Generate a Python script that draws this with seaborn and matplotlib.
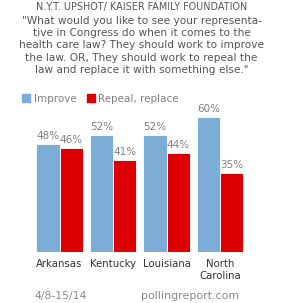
import matplotlib
matplotlib.use("Agg")
import matplotlib.pyplot as plt
import seaborn as sns
import pandas as pd
from matplotlib.patches import Patch

states = ["Arkansas", "Kentucky", "Louisiana", "North\nCarolina"]
improve = [48, 52, 52, 60]
repeal = [46, 41, 44, 35]
series = ["Improve", "Repeal, replace"]

df = pd.DataFrame({
    "state": states * 2,
    "answer": [series[0]] * 4 + [series[1]] * 4,
    "pct": improve + repeal,
})

sns.set_theme(style="white")
plt.rcParams["font.family"] = ["DejaVu Sans"]

W, H = 283, 303
fig = plt.figure(figsize=(W / 100, H / 100), dpi=100)
ax = fig.add_axes([32.75 / W, 51 / H, 214 / W, 142 / H])

palette = {"Improve": "#7BADD7", "Repeal, replace": "#DD0000"}
sns.barplot(data=df, x="state", y="pct", hue="answer", palette=palette,
            width=0.87, saturation=1, legend=False, ax=ax,
            edgecolor="white", linewidth=0.6)

for cont in ax.containers:
    ax.bar_label(cont, labels=[f"{v:.0f}%" for v in cont.datavalues],
                 padding=2, fontsize=7.5, color="#808080")

ax.set_ylim(0, 142 / 2.255)
ax.set_xlim(-0.5, 3.5)
ax.set_xlabel("")
ax.set_ylabel("")
ax.set_yticks([])
ax.tick_params(axis="x", length=0, pad=5, labelsize=7.3, labelcolor="#333333")
sns.despine(ax=ax, left=True, bottom=True)

# legend
handles = [Patch(color=palette[s]) for s in series]
fig.legend(handles, series, loc="center left", bbox_to_anchor=(18 / W, 1 - 99 / H),
           ncol=2, frameon=False, fontsize=7.5, labelcolor="#808080",
           handlelength=0.8, handleheight=0.8, handletextpad=0.3, columnspacing=1.0,
           borderaxespad=0)

# title
fig.text(0.5, 1 - 7 / H, "N.Y.T. UPSHOT/ KAISER FAMILY FOUNDATION",
         ha="center", va="center", fontsize=6.9, color="#555555")
quote = ('"What would you like to see your representa-\n'
         'tive in Congress do when it comes to the\n'
         'health care law? They should work to improve\n'
         'the law. OR, They should work to repeal the\n'
         'law and replace it with something else."')
fig.text(0.5, 1 - 15.5 / H, quote, ha="center", va="top", fontsize=7.6,
         color="#555555", linespacing=1.3)

# footer
fig.text(34 / W, 1 - 296 / H, "4/8-15/14", ha="left", va="center",
         fontsize=7.8, color="#8a8a8a")
fig.text(239 / W, 1 - 296 / H, "pollingreport.com", ha="right", va="center",
         fontsize=7.9, color="#8a8a8a")

fig.savefig("out.png", dpi=100)
